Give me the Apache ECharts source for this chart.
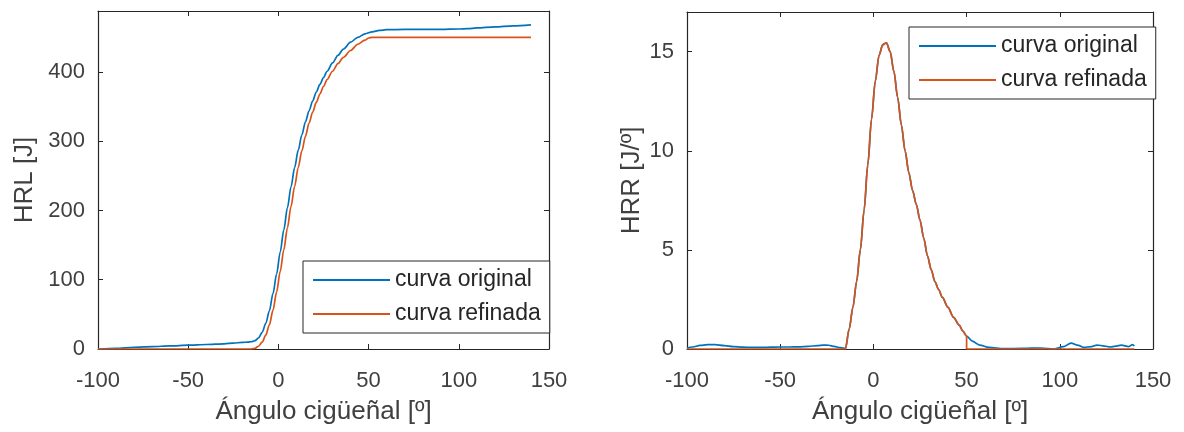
<!DOCTYPE html>
<html>
<head>
<meta charset="utf-8">
<script src="https://cdn.jsdelivr.net/npm/echarts@6/dist/echarts.min.js"></script>
<style>
html,body{margin:0;padding:0;background:#fff;}
#c{width:1184px;height:432px;}
</style>
</head>
<body>
<div id="c"></div>
<script>
// ---- Data ----
var seriesNames = ['curva original', 'curva refinada'];
var xTicks = [-100, -50, 0, 50, 100, 150];

// Left panel: HRL [J] vs crank angle
var hrlOriginalX = [-100,-90,-80,-70,-60,-50,-40,-30,-25,-20,-17,-15,-13,-11,-9,-7,-5,-3,-1,1,3,5,7,9,11,13,15,17,19,21,23,25,27,30,33,36,40,44,48,52,56,60,70,80,90,100,105,110,120,130,140];
var hrlOriginalY = [0,1,2.5,3.5,4.5,5.5,6.5,7.5,8.5,9.5,10,10.5,12,16,24,37,55,80,108,140,172,204,234,262,287,309,328,344,358,371,382,392,401,413,424,433,443,450,455,458,460,461,461.5,461.5,461.5,462,462.5,463.5,465,466.5,468];
var hrlRefinedX = [-100,-15,-13,-11,-9,-7,-5,-3,-1,1,3,5,7,9,11,13,15,17,19,21,23,25,27,30,33,36,40,44,48,50,52,60,100,140];
var hrlRefinedY = [0,0,1,4,10,20,35,56,82,112,143,175,206,235,262,286,307,326,342,356,368,379,389,401,412,421,431,440,446,449,450,450,450,450];

// Right panel: HRR [J/º] vs crank angle
var hrrOriginalX = [-100,-97,-93,-89,-85,-80,-75,-70,-65,-60,-55,-50,-45,-40,-35,-30,-27,-24,-21,-18,-16,-15,-13,-11,-9,-7,-5,-3,-1,1,3,5,7,9,11,13,15,17,19,21,23,25,27,29,31,33,35,37,40,43,46,48,50,53,57,62,70,80,90,97,102,106,110,113,117,120,124,127,130,133,137,139,140];
var hrrOriginalY = [0.05,0.1,0.18,0.22,0.22,0.17,0.12,0.09,0.08,0.08,0.09,0.1,0.1,0.11,0.13,0.17,0.2,0.19,0.13,0.07,0.04,0.03,1.0,2.1,3.4,5.0,7.0,9.3,11.6,13.5,14.8,15.35,15.45,15.0,14.0,12.7,11.3,10.0,8.9,8.0,7.3,6.5,5.6,4.7,4.0,3.4,3.0,2.6,2.1,1.6,1.2,0.9,0.65,0.4,0.2,0.08,0.02,0.03,0.05,0.0,0.12,0.3,0.18,0.08,0.12,0.2,0.15,0.1,0.14,0.2,0.12,0.22,0.15];
var hrrRefinedX = [-100,-15,-13,-11,-9,-7,-5,-3,-1,1,3,5,7,9,11,13,15,17,19,21,23,25,27,29,31,33,35,37,40,43,46,48,50,50,100,140];
var hrrRefinedY = [0,0,1.0,2.1,3.4,5.0,7.0,9.3,11.6,13.5,14.8,15.35,15.45,15.0,14.0,12.7,11.3,10.0,8.9,8.0,7.3,6.5,5.6,4.7,4.0,3.4,3.0,2.6,2.1,1.6,1.2,0.9,0.65,0,0,0];

var xAxisTitle = 'Ángulo cigüeñal [º]';
var leftYTitle = 'HRL [J]';
var rightYTitle = 'HRR [J/º]';

// ---- Build ----
function pairs(xs, ys){ return xs.map(function(x,i){ return [x, ys[i]]; }); }
var BLUE = '#0072BD', ORANGE = '#D95319', INK = '#262626', TXT = '#404040';
var FONT = '"Liberation Sans", Arial, Helvetica, sans-serif';

function xAxisFor(gi, top){
  return {
    type:'value', gridIndex:gi, min:-100, max:150, interval:50,
    position: top ? 'top' : 'bottom',
    name: top ? '' : xAxisTitle, nameLocation:'middle', nameGap:50,
    nameTextStyle:{fontSize:26, color:TXT, fontFamily:FONT},
    axisLine:{show:true, onZero:false, lineStyle:{color:INK, width:1.2}},
    axisTick:{show:true, inside:true, length:5, lineStyle:{color:INK}},
    axisLabel:{show:!top, fontSize:22, color:TXT, fontFamily:FONT, margin:21},
    splitLine:{show:false}
  };
}
function yAxisFor(gi, right, max, interval, title, gap){
  return {
    type:'value', gridIndex:gi, min:0, max:max, interval:interval,
    position: right ? 'right' : 'left',
    name: right ? '' : title, nameLocation:'middle', nameGap:gap, nameRotate:90,
    nameTextStyle:{fontSize:26, color:TXT, fontFamily:FONT},
    axisLine:{show:true, onZero:false, lineStyle:{color:INK, width:1.2}},
    axisTick:{show:true, inside:true, length:5, lineStyle:{color:INK}},
    axisLabel:{show:!right, showMaxLabel:false, fontSize:22, color:TXT, fontFamily:FONT, margin:13},
    splitLine:{show:false}
  };
}
function lineSeries(name, xi, yi, data, color){
  return {
    name:name, type:'line', xAxisIndex:xi, yAxisIndex:yi, data:data,
    symbol:'none', smooth:0.3, smoothMonotone:'x',
    lineStyle:{color:color, width:1.7}, itemStyle:{color:color},
    animation:false, z:color===ORANGE?3:2
  };
}
function legendAt(left, top){
  return {
    left:left, top:top, orient:'vertical',
    data:seriesNames.map(function(n){ return {name:n, icon:'rect'}; }),
    itemWidth:77, itemHeight:2, itemGap:10,
    padding:[7,9,7,10],
    borderColor:INK, borderWidth:1, backgroundColor:'#fff',
    textStyle:{fontSize:23, color:INK, fontFamily:FONT, lineHeight:24},
    selectedMode:false
  };
}

var chart = echarts.init(document.getElementById('c'));
chart.setOption({
  animation:false,
  backgroundColor:'#fff',
  grid:[
    {left:98, top:11, width:451, height:338},
    {left:687, top:12, width:466, height:337}
  ],
  xAxis:[ xAxisFor(0,false), xAxisFor(0,true), xAxisFor(1,false), xAxisFor(1,true) ],
  yAxis:[
    yAxisFor(0,false,488,100,leftYTitle,60), yAxisFor(0,true,488,100,leftYTitle,60),
    yAxisFor(1,false,17,5,rightYTitle,42), yAxisFor(1,true,17,5,rightYTitle,42)
  ],
  legend:[ legendAt(303,261), legendAt(909,27) ],
  series:[
    lineSeries(seriesNames[0],0,0,pairs(hrlOriginalX,hrlOriginalY),BLUE),
    lineSeries(seriesNames[1],0,0,pairs(hrlRefinedX,hrlRefinedY),ORANGE),
    lineSeries(seriesNames[0],2,2,pairs(hrrOriginalX,hrrOriginalY),BLUE),
    lineSeries(seriesNames[1],2,2,pairs(hrrRefinedX,hrrRefinedY),ORANGE)
  ]
});
</script>
</body>
</html>
